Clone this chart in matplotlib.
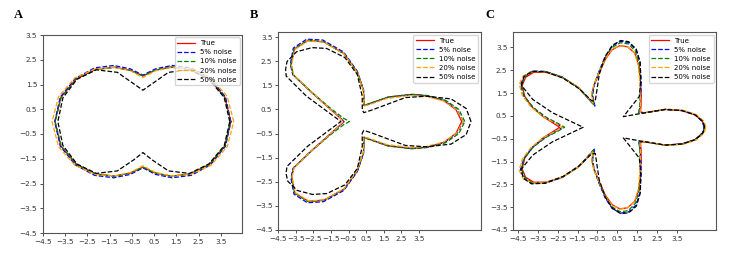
import numpy as np
import matplotlib
matplotlib.use("Agg")
import matplotlib.pyplot as plt

# Curves are stored as radius samples at polar angles in degrees.
LABELS = ['True', '5% noise', '10% noise', '20% noise', '50% noise']
COLORS = ['red', 'blue', 'green', 'orange', 'black']
STYLES = ['-', '--', '--', '--', '--']

# panel A: peanut
ANG_A = [0, 15, 30, 45, 60, 75, 90, 105, 120, 135, 150, 165,
         180, 195, 210, 225, 240, 255, 270, 285, 300, 315, 330, 345]
A_TRUE = [3.95, 3.81, 3.45, 2.99, 2.54, 2.15, 1.84, 2.15, 2.54, 2.99, 3.45, 3.81,
          3.95, 3.81, 3.45, 2.99, 2.54, 2.15, 1.84, 2.15, 2.54, 2.99, 3.45, 3.81]
A_5 = [3.95, 3.84, 3.50, 3.07, 2.62, 2.21, 1.88, 2.21, 2.62, 3.07, 3.50, 3.84,
       3.96, 3.84, 3.50, 3.07, 2.62, 2.21, 1.87, 2.21, 2.62, 3.07, 3.50, 3.84]
A_10 = [3.93, 3.80, 3.46, 3.00, 2.55, 2.15, 1.85, 2.14, 2.53, 2.98, 3.44, 3.80,
        3.94, 3.80, 3.45, 3.00, 2.55, 2.15, 1.84, 2.15, 2.55, 3.00, 3.46, 3.81]
A_20 = [4.08, 3.92, 3.53, 3.02, 2.53, 2.12, 1.78, 2.12, 2.53, 3.02, 3.53, 3.92,
        4.08, 3.92, 3.53, 3.02, 2.53, 2.12, 1.78, 2.12, 2.53, 3.02, 3.53, 3.92]
A_50 = [3.90, 3.78, 3.42, 2.96, 2.30, 1.58, 1.27, 1.58, 2.30, 2.96, 3.42, 3.72,
        3.82, 3.72, 3.42, 2.96, 2.30, 1.60, 1.25, 1.60, 2.30, 2.96, 3.42, 3.78]

# panel B: three lobes
ANG_B = [0, 5, 10, 15, 20, 30, 45, 60, 75, 90, 105, 120, 130, 140, 148, 152, 155, 160, 170,
         180, 190, 200, 205, 208, 212, 220, 230, 240, 255, 270, 285, 300, 315, 330, 340,
         345, 350, 355]
B_TRUE = [5.92, 5.62, 4.98, 4.11, 3.28, 2.02, 1.07, 0.76, 1.35, 2.05, 2.92, 3.82, 4.38, 4.67,
          4.42, 4.12, 2.86, 1.79, 1.04, 0.75, 1.04, 1.79, 2.86, 4.10, 4.38, 4.62, 4.32, 3.76,
          2.90, 2.05, 1.35, 0.76, 1.07, 2.02, 3.28, 4.11, 4.98, 5.62]
B_5 = [6.00, 5.68, 5.02, 4.12, 3.27, 2.00, 1.06, 0.74, 1.35, 2.08, 2.98, 3.90, 4.46, 4.74,
       4.48, 4.15, 2.86, 1.78, 1.03, 0.74, 1.03, 1.78, 2.86, 4.13, 4.44, 4.69, 4.40, 3.84,
       2.96, 2.08, 1.36, 0.75, 1.06, 2.00, 3.27, 4.12, 5.02, 5.68]
B_10 = [6.10, 5.78, 5.08, 4.16, 3.30, 2.04, 1.08, 0.78, 1.36, 2.03, 2.90, 3.82, 4.40, 4.68,
        4.44, 4.10, 2.80, 1.65, 0.80, 0.45, 0.80, 1.65, 2.80, 4.08, 4.40, 4.63, 4.34, 3.78,
        2.90, 2.03, 1.36, 0.78, 1.08, 2.04, 3.30, 4.16, 5.08, 5.78]
B_20 = [6.00, 5.65, 4.95, 4.02, 3.15, 1.90, 1.00, 0.74, 1.32, 2.02, 2.90, 3.80, 4.36, 4.64,
        4.40, 4.08, 2.82, 1.78, 1.05, 0.78, 1.05, 1.78, 2.82, 4.06, 4.37, 4.59, 4.30, 3.75,
        2.88, 2.02, 1.32, 0.74, 1.00, 1.90, 3.15, 4.02, 4.95, 5.65]
B_50 = [6.45, 6.20, 5.40, 4.05, 2.90, 0.95, 0.52, 0.56, 1.08, 1.95, 2.75, 3.50, 4.00, 4.50,
        4.70, 4.61, 4.45, 3.07, 1.41, 0.93, 1.41, 3.00, 4.40, 4.58, 4.66, 4.45, 3.95, 3.45,
        2.72, 1.95, 1.08, 0.56, 0.52, 0.95, 2.90, 4.05, 5.40, 6.20]

# panel C: five lobes
ANG_C = [0, 3, 7, 11, 15, 19, 22, 30, 40, 50, 60, 67, 74, 80, 86, 92, 100, 110, 118, 124,
         130, 136, 142, 147, 152, 157, 162, 167, 172, 176, 180, 184, 188, 193, 198, 203, 208,
         213, 218, 224, 230, 236, 242, 250, 260, 268, 274, 280, 286, 293, 300, 310, 320, 330,
         338, 341, 345, 349, 353, 357]
C_TRUE = [4.89, 4.80, 4.45, 3.82, 3.01, 1.95, 1.80, 1.96, 2.22, 2.60, 3.15, 3.53, 3.67, 3.63,
          3.40, 2.97, 2.40, 1.96, 1.66, 1.27, 2.29, 3.14, 3.90, 4.42, 4.66, 4.66, 4.37, 3.87,
          3.25, 2.75, 2.40,
          2.75, 3.25, 3.87, 4.37, 4.66, 4.66, 4.42, 3.90, 3.14, 2.29, 1.27, 1.66, 1.96, 2.40,
          2.97, 3.40, 3.63, 3.67, 3.53, 3.15, 2.60, 2.22, 1.96, 1.80, 1.95, 3.01, 3.82, 4.45,
          4.80]
C_5 = [4.87, 4.79, 4.45, 3.83, 3.02, 1.93, 1.72, 1.90, 2.20, 2.65, 3.28, 3.70, 3.86, 3.82,
       3.57, 3.10, 2.47, 1.95, 1.58, 1.12, 2.25, 3.18, 3.98, 4.52, 4.76, 4.75, 4.42, 3.85,
       3.15, 2.60, 2.25,
       2.60, 3.15, 3.85, 4.42, 4.76, 4.76, 4.52, 3.98, 3.18, 2.25, 1.12, 1.58, 1.95, 2.47,
       3.10, 3.57, 3.82, 3.86, 3.70, 3.28, 2.65, 2.20, 1.90, 1.72, 1.93, 3.02, 3.83, 4.45,
       4.79]
C_10 = [4.90, 4.82, 4.48, 3.86, 3.05, 1.90, 1.70, 1.88, 2.15, 2.58, 3.20, 3.62, 3.80, 3.76,
        3.50, 3.05, 2.45, 1.98, 1.62, 1.18, 2.26, 3.15, 3.95, 4.48, 4.70, 4.70, 4.40, 3.82,
        3.10, 2.50, 2.15,
        2.50, 3.10, 3.82, 4.40, 4.70, 4.70, 4.48, 3.95, 3.15, 2.26, 1.18, 1.62, 1.98, 2.45,
        3.05, 3.50, 3.76, 3.80, 3.62, 3.20, 2.58, 2.15, 1.88, 1.70, 1.90, 3.05, 3.86, 4.48,
        4.82]
C_20 = [4.96, 4.88, 4.52, 3.90, 3.08, 1.95, 1.78, 1.92, 2.17, 2.55, 3.12, 3.52, 3.67, 3.64,
        3.42, 3.00, 2.43, 1.98, 1.68, 1.25, 2.28, 3.12, 3.92, 4.50, 4.80, 4.82, 4.50, 3.95,
        3.25, 2.65, 2.25,
        2.65, 3.25, 3.95, 4.50, 4.82, 4.80, 4.50, 3.92, 3.12, 2.28, 1.25, 1.68, 1.98, 2.43,
        3.00, 3.42, 3.64, 3.67, 3.52, 3.12, 2.55, 2.17, 1.92, 1.78, 1.95, 3.08, 3.90, 4.52,
        4.88]
C_50 = [4.90, 4.82, 4.46, 3.84, 3.02, 1.92, 1.48, 0.93, 2.10, 2.62, 3.30, 3.72, 3.90, 3.86,
        3.60, 3.10, 2.35, 1.60, 1.30, 1.40, 2.20, 3.10, 3.95, 4.50, 4.75, 4.70, 3.95, 2.84,
        1.87, 1.47, 1.22,
        1.47, 1.87, 2.84, 3.95, 4.72, 4.78, 4.55, 3.98, 3.10, 2.20, 1.40, 1.30, 1.60, 2.35,
        3.05, 3.55, 3.84, 3.90, 3.75, 3.32, 2.62, 2.10, 0.93, 1.48, 1.92, 3.02, 3.84, 4.46,
        4.82]

TICKS = [-4.5, -3.5, -2.5, -1.5, -0.5, 0.5, 1.5, 2.5, 3.5]


def draw_panel(ax, ang, curves, xlim, ylim):
    t = np.deg2rad(np.array(ang + [ang[0]], dtype=float))
    for r, label, color, ls in zip(curves, LABELS, COLORS, STYLES):
        rr = np.array(r + [r[0]])
        ax.plot(rr * np.cos(t), rr * np.sin(t), color=color, ls=ls, lw=0.9, label=label)
    ax.set_xlim(*xlim)
    ax.set_ylim(*ylim)
    ax.set_xticks(TICKS)
    ax.set_yticks(TICKS)
    ax.tick_params(labelsize=5.2, length=2.5, width=0.6, pad=1.5, colors='#333333')
    for s in ax.spines.values():
        s.set_color('#555555')
        s.set_linewidth(0.8)
    ax.legend(loc='upper right', fontsize=5, handlelength=2.6, borderaxespad=0.35,
              labelspacing=0.45, borderpad=0.4, handletextpad=0.7)


fig = plt.figure(figsize=(7.33, 2.58), dpi=100)
W, H = 733, 258

panels = [
    ('A', (42.7, 35, 242, 233), ANG_A, [A_TRUE, A_5, A_10, A_20, A_50], (-4.5, 4.45), (-4.5, 3.5), 18),
    ('B', (278, 32.3, 480.7, 230), ANG_B, [B_TRUE, B_5, B_10, B_20, B_50], (-4.5, 7.0), (-4.5, 3.7), 254),
    ('C', (513, 32.3, 716, 230), ANG_C, [C_TRUE, C_5, C_10, C_20, C_50], (-4.75, 5.47), (-4.5, 4.16), 490),
]

for letter, (x0, y0, x1, y1), ang, curves, xl, yl, lx in panels:
    ax = fig.add_axes([x0 / W, 1 - y1 / H, (x1 - x0) / W, (y1 - y0) / H])
    draw_panel(ax, ang, curves, xl, yl)
    fig.text(lx / W, 1 - 15 / H, letter, fontsize=9, fontweight='bold',
             family='Liberation Serif', ha='center', va='center')

fig.savefig('out.png', dpi=100)
